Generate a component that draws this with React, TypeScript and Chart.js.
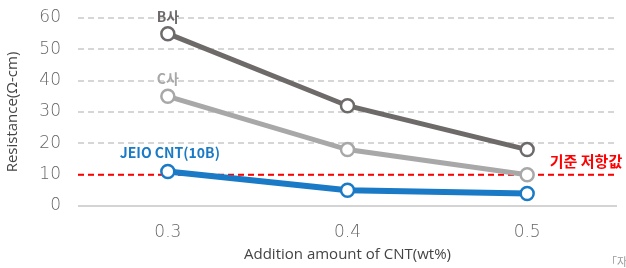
import React, { useEffect, useRef } from "react";
import { Chart, registerables } from "chart.js";
Chart.register(...registerables);

const categories = ["0.3", "0.4", "0.5"];
const seriesB = [55, 32, 18];
const seriesC = [35, 18, 10];
const seriesJEIO = [11, 5, 4];
const referenceValue = 10;
const seriesNames = ["B사", "C사", "JEIO CNT(10B)"];
const referenceLabel = "기준 저항값";
const yTicks = [0, 10, 20, 30, 40, 50, 60];

const FONT = "'DejaVu Sans', 'Noto Sans', sans-serif";
const TFONT = "'Open Sans', 'Noto Sans', sans-serif";
const KFONT = "'Noto Sans CJK KR', 'Noto Sans', sans-serif";

export default function App() {
  const ref = useRef<HTMLCanvasElement | null>(null);
  useEffect(() => {
    if (!ref.current) return;
    const overlay = {
      id: "overlay",
      beforeDatasetsDraw(chart: any) {
        const { ctx, chartArea, scales } = chart;
        const y = scales.y.getPixelForValue(referenceValue);
        ctx.save();
        ctx.strokeStyle = "#ff0000";
        ctx.lineWidth = 2;
        ctx.setLineDash([6, 4]);
        ctx.beginPath();
        ctx.moveTo(chartArea.left, y);
        ctx.lineTo(chartArea.right - 3, y);
        ctx.stroke();
        ctx.restore();
      },
      afterDatasetsDraw(chart: any) {
        const { ctx, scales } = chart;
        const x0 = scales.x.getPixelForValue(0);
        ctx.save();
        ctx.textAlign = "center";
        ctx.textBaseline = "alphabetic";
        ctx.font = `bold 14px ${KFONT}`;
        ctx.fillStyle = "#6e6a6a";
        ctx.fillText(seriesNames[0], x0, scales.y.getPixelForValue(seriesB[0]) - 12);
        ctx.fillStyle = "#a8a8a8";
        ctx.fillText(seriesNames[1], x0, scales.y.getPixelForValue(seriesC[0]) - 12);
        ctx.fillStyle = "#1a7ac6";
        ctx.font = `bold 14px ${KFONT}`;
        ctx.fillText(seriesNames[2], x0 + 2, scales.y.getPixelForValue(seriesJEIO[0]) - 14);
        ctx.fillStyle = "#ff0000";
        ctx.font = `bold 15px ${KFONT}`;
        ctx.fillText(referenceLabel, 586, scales.y.getPixelForValue(referenceValue) - 8);
        ctx.fillStyle = "#999";
        ctx.font = `11px ${KFONT}`;
        ctx.textAlign = "left";
        ctx.fillText("「자료」", 606, 266);
        ctx.restore();
      },
    };
    const ds = (data: number[], color: string, width: number) => ({
      data,
      borderColor: color,
      borderWidth: width,
      pointRadius: 6.5,
      pointBorderWidth: 2.5,
      pointBackgroundColor: "#ffffff",
      pointBorderColor: color,
      tension: 0,
    });
    const chart = new Chart(ref.current, {
      type: "line",
      data: {
        labels: categories,
        datasets: [
          ds(seriesB, "#6e6a6a", 5),
          ds(seriesC, "#a8a8a8", 5),
          ds(seriesJEIO, "#1a7ac6", 6),
        ],
      },
      options: {
        animation: false,
        responsive: false,
        layout: { padding: { top: 18, right: 8, left: 0, bottom: 0 } },
        plugins: { legend: { display: false }, tooltip: { enabled: false } },
        scales: {
          x: {
            offset: true,
            grid: { display: false, drawTicks: false },
            border: { display: false },
            ticks: { color: "#666", font: { family: FONT, size: 17, weight: "200" as any }, padding: 16 },
            title: {
              display: true,
              text: "Addition amount of CNT(wt%)",
              color: "#444",
              font: { family: TFONT, size: 15 },
              padding: { top: 4 },
            },
            afterFit: (s: any) => { s.height = 62; s.paddingLeft = 0; s.paddingRight = 0; },
          },
          y: {
            min: 0,
            max: 60,
            afterBuildTicks: (s: any) => { s.ticks = yTicks.map((v) => ({ value: v })); },
            grid: {
              drawTicks: false,
              lineWidth: 2,
              color: (c: any) => (c.tick && c.tick.value === 0 ? "#d4d4d4" : "#d6d6d6"),
            },
            border: { display: false, dash: (c: any) => (c.tick && c.tick.value === 0 ? [] : [6, 4]) } as any,
            ticks: { color: "#666", font: { family: FONT, size: 17, weight: "200" as any }, padding: 17 },
            title: {
              display: true,
              text: "Resistance(Ω-cm)",
              color: "#444",
              font: { family: TFONT, size: 15 },
              padding: { bottom: 4 },
            },
            afterFit: (s: any) => { s.width = 78; s.paddingTop = 0; s.paddingBottom = 0; },
          },
        },
      },
      plugins: [overlay],
    });
    return () => chart.destroy();
  }, []);
  return (
    <div style={{ position: "fixed", left: 0, top: 0, width: 626, height: 268, background: "#fff" }}>
      <canvas ref={ref} width={626} height={268} />
    </div>
  );
}
